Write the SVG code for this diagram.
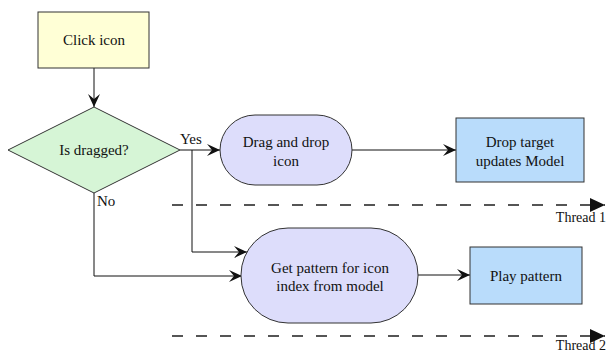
<svg xmlns="http://www.w3.org/2000/svg" width="608" height="353" viewBox="0 0 608 353" font-family="'Liberation Serif', 'DejaVu Serif', serif">
<style>
text{font-family:'Liberation Serif','DejaVu Serif',serif;font-size:15px;fill:#111;text-anchor:middle}
.nd{stroke:#333;stroke-width:1}
.cn{stroke:#111;stroke-width:1;fill:none}
.th{stroke:#555;stroke-width:2;fill:none;stroke-dasharray:11 13}
.lb{text-anchor:start}
.tl{font-size:14px;text-anchor:end}
</style>
<defs>
<marker id="ah" markerWidth="14" markerHeight="12" refX="13" refY="6" orient="auto" markerUnits="userSpaceOnUse">
<path d="M0,0 L13,6 L0,12 L5,6 z" fill="#111"/>
</marker>
<marker id="th" markerWidth="16" markerHeight="14" refX="15" refY="7" orient="auto" markerUnits="userSpaceOnUse">
<path d="M0,0 L15,7 L0,14 z" fill="#111"/>
</marker>
</defs>
<rect width="608" height="353" fill="#fff"/>
<g id="connectors">
<path class="cn" d="M94,68 V107" marker-end="url(#ah)"/>
<path class="cn" d="M180,150 H220" marker-end="url(#ah)"/>
<path class="cn" d="M192,150 V252 H247" marker-end="url(#ah)"/>
<path class="cn" d="M94,193 V276 H242" marker-end="url(#ah)"/>
<path class="cn" d="M352,150 H456" marker-end="url(#ah)"/>
<path class="cn" d="M418,275 H470" marker-end="url(#ah)"/>
<path class="th" d="M172,205 H605" marker-end="url(#th)"/>
<path class="th" d="M172,336 H605" marker-end="url(#th)"/>
<text class="lb" x="180" y="144">Yes</text>
<text class="lb" x="97" y="206">No</text>
<text class="tl" x="606" y="222">Thread 1</text>
<text class="tl" x="606" y="350">Thread 2</text>
</g>
<g id="click-icon">
<rect class="nd" x="38" y="12" width="111" height="56" fill="#FFFFD6"/>
<text x="94" y="45">Click icon</text>
</g>
<g id="is-dragged">
<polygon class="nd" points="94,107 180,150 94,193 8,150" fill="#D6F5D6"/>
<text x="94" y="155">Is dragged?</text>
</g>
<g id="drag-drop">
<rect class="nd" x="220" y="115" width="132" height="70" rx="35" ry="35" fill="#DDDDFB"/>
<text x="286" y="147">Drag and drop</text>
<text x="286" y="166">icon</text>
</g>
<g id="drop-target">
<rect class="nd" x="456" y="118" width="128" height="64" fill="#B9DCFB"/>
<text x="520" y="147">Drop target</text>
<text x="520" y="166">updates Model</text>
</g>
<g id="get-pattern">
<rect class="nd" x="241" y="228" width="177" height="95" rx="47" ry="47" fill="#DDDDFB"/>
<text x="330" y="273">Get pattern for icon</text>
<text x="330" y="291">index from model</text>
</g>
<g id="play-pattern">
<rect class="nd" x="470" y="247" width="112" height="57" fill="#B9DCFB"/>
<text x="526" y="281">Play pattern</text>
</g>
</svg>
